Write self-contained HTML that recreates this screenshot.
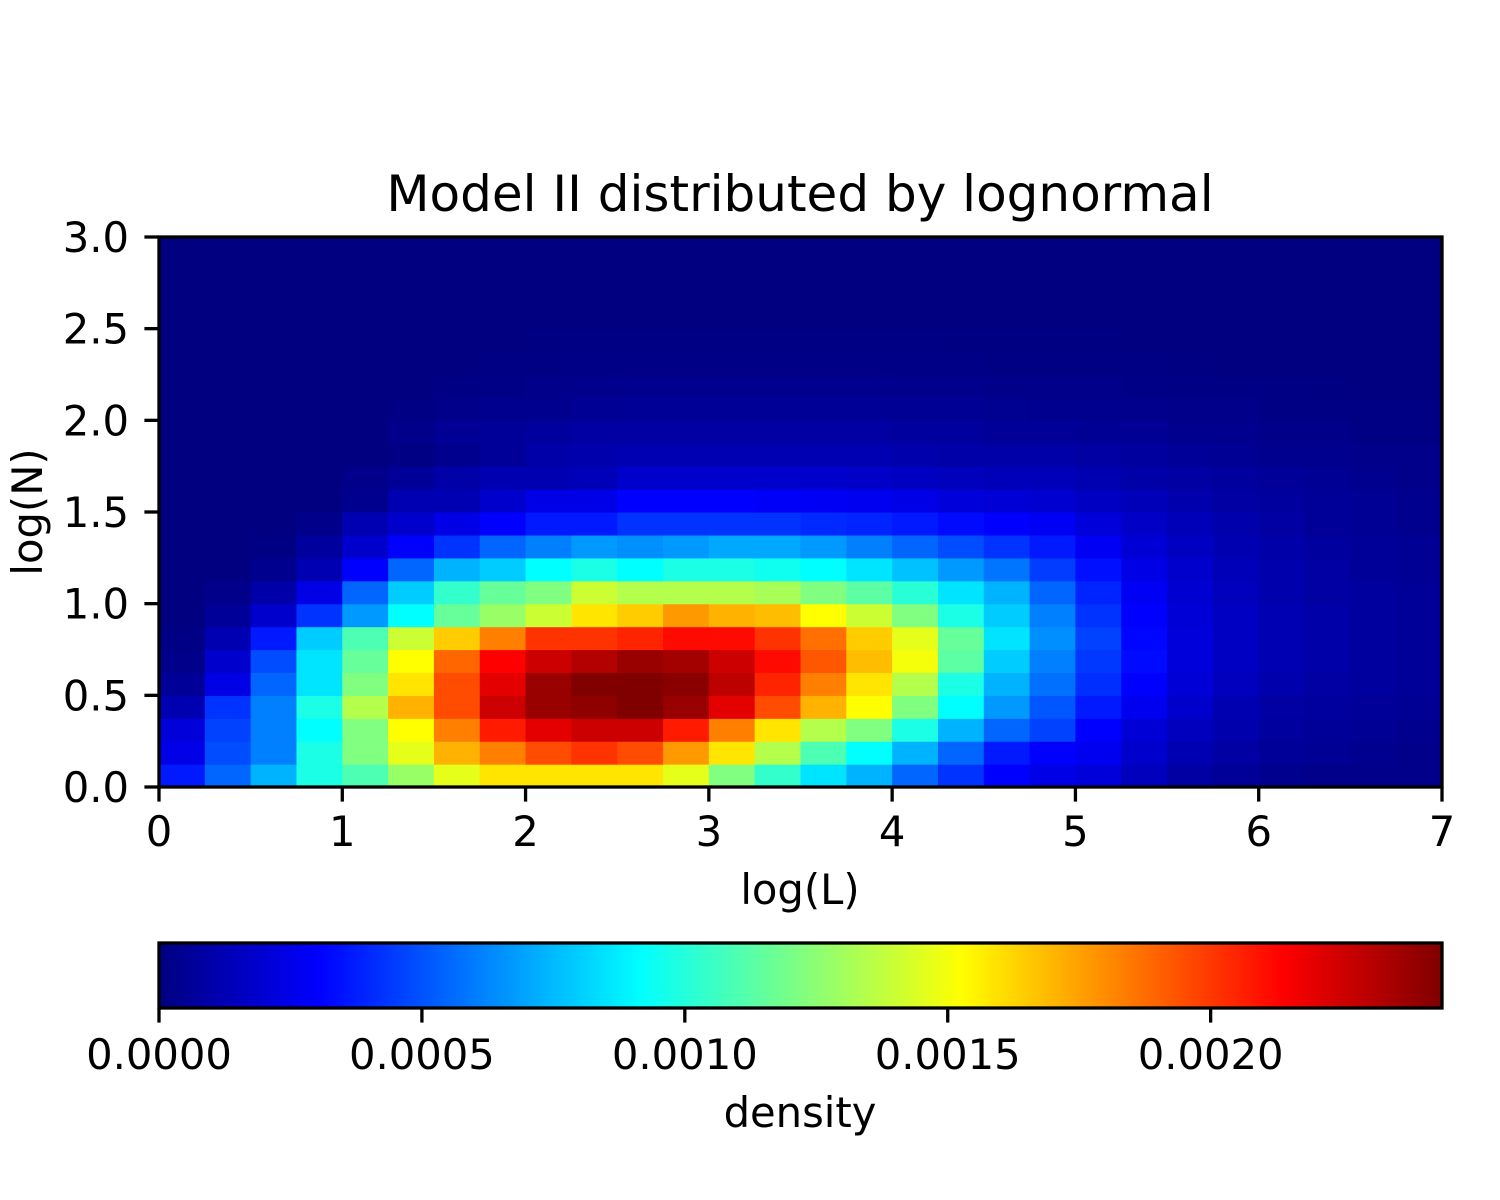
<!DOCTYPE html>
<html><head><meta charset="utf-8">
<style>
html,body{margin:0;padding:0;background:#fff;}
svg{display:block;font-family:"DejaVu Sans","Liberation Sans",sans-serif;}
</style></head>
<body>
<svg id="fig" width="1500" height="1200" viewBox="0 0 1500 1200" xmlns="http://www.w3.org/2000/svg">
<rect width="1500" height="1200" fill="#fff"/>
<text x="800" y="211" font-size="50" text-anchor="middle">Model II distributed by lognormal</text>
<g id="heat"></g>
<g id="axes"></g>
<text x="800" y="904" font-size="41.7" text-anchor="middle">log(L)</text>
<text x="0" y="0" font-size="41.7" text-anchor="middle" transform="translate(42,512) rotate(-90)">log(N)</text>
<defs><linearGradient id="jetgrad" x1="0" x2="1" y1="0" y2="0"></linearGradient></defs>
<rect x="159" y="943" width="1283" height="65" fill="url(#jetgrad)" stroke="#000" stroke-width="3.3"/>
<g id="cbaxis"></g>
<text x="800" y="1127" font-size="41.7" text-anchor="middle">density</text>
</svg>
<script>
// heatmap data: density as level on 0..20 scale of colorbar (density = level/20 * VMAX); row 0 = bottom (log N 0..0.125), columns step 0.25 in log L
const VMAX = 0.00244;
const xTicks = [0,1,2,3,4,5,6,7];
const yTicks = ["0.0","0.5","1.0","1.5","2.0","2.5","3.0"];
const cbTicks = ["0.0000","0.0005","0.0010","0.0015","0.0020"];
const row00 = [3,4.5,6,8,9,10.5,12,13,13,13, 13,12,10,8.5,7,6,4.5,3.5,2.5,2.0, 1.8,1.2,0.7,0.5,0.3,0.2,0.2,0.2];
const row01 = [2,4,5,8,10,12,14,15,16,16.5, 16,14.5,13,11,9,7.5,6,4.5,3,2.5, 2.2,1.5,1,0.7,0.5,0.4,0.3,0.2];
const row02 = [1.8,3.8,5,7.5,10,12.5,15,17,18,18.5, 18.5,17,15,13,11,10,8,6,4.5,3.8, 2.5,1.7,1.2,0.9,0.6,0.5,0.4,0.3];
const row03 = [1,3.5,5,8,11,14,16,18.5,19.5,19.7, 20,19.5,18,16,14,12.5,10,7.5,5.5,4.2, 3,2.2,1.5,1,0.7,0.6,0.5,0.4];
const row04 = [0.5,2,4.5,7,10,13,16,18,19.5,20, 20,19.8,18.8,16.8,15,13,11,8,6,4.7, 3.4,2.5,1.7,1.2,0.9,0.7,0.6,0.5];
const row05 = [0.2,1.5,4,7,9.5,12.5,15.5,17.5,18.5,19, 19.5,19.3,18.5,17.3,15.8,13.8,12.3,9.3,6.5,5, 3.6,2.7,1.8,1.3,1,0.8,0.6,0.5];
const row06 = [0.1,1,3,6.5,9,11.5,13.5,15,16.5,16.5, 16.8,17.3,17.3,16.5,15.3,13.5,12,9.5,7,5.3, 3.8,2.6,1.8,1.3,1,0.8,0.6,0.5];
const row07 = [0,0.5,1.5,3.5,5.5,7.5,9.5,10.5,11.5,13, 13.5,14.5,14,13.8,12.5,11.5,10,8,6.5,5, 3.5,2.5,1.7,1.3,1,0.8,0.6,0.5];
const row08 = [0,0.2,0.8,2,4.5,6.5,8.5,9.5,10,11.5, 11,11,11,10.8,10,9.3,8.3,7,6,4.5, 3.2,2.3,1.6,1.2,0.9,0.7,0.6,0.5];
const row09 = [0,0,0.3,1,2.5,4.5,6,6.5,7.5,8, 7.5,8,8,7.8,7.5,7,6.3,5.5,4.8,3.7, 2.8,2,1.5,1.1,0.9,0.7,0.5,0.4];
const row10 = [0,0,0.1,0.6,1.5,2.5,3.5,4.5,5,5.5, 5.3,5.5,5.8,5.8,5.5,5,4.5,4,3.5,3, 2.3,1.7,1.3,1,0.8,0.6,0.5,0.4];
const row11 = [0,0,0,0.2,1,1.5,2,2.5,3,3, 3.5,3.5,3.5,3.5,3.3,3.2,3,2.7,2.5,2.3, 1.8,1.4,1.1,0.9,0.7,0.5,0.4,0.3];
const row12 = [0,0,0,0,0.3,1,1,1.5,2,2, 2.5,2.5,2.5,2.4,2.3,2.2,2,1.8,1.7,1.6, 1.3,1.1,0.9,0.7,0.6,0.5,0.4,0.3];
const row13 = [0,0,0,0,0.2,0.5,0.8,1,1,1.1, 1.5,1.5,1.5,1.5,1.5,1.4,1.3,1.2,1.1,1.1, 1,0.8,0.7,0.6,0.5,0.4,0.3,0.2];
const row14 = [0,0,0,0,0,0.1,0.3,0.5,0.8,0.9, 1,1,1,1,1,1,0.9,0.8,0.8,0.8, 0.7,0.6,0.5,0.4,0.3,0.3,0.2,0.2];
const row15 = [0,0,0,0,0,0.2,0.4,0.5,0.6,0.7, 0.7,0.7,0.7,0.7,0.7,0.7,0.6,0.6,0.5,0.5, 0.4,0.4,0.3,0.3,0.2,0.2,0.1,0.1];
const row16 = [0,0,0,0,0,0.1,0.2,0.3,0.3,0.4, 0.45,0.45,0.45,0.45,0.45,0.45,0.4,0.4,0.35,0.3, 0.3,0.25,0.2,0.2,0.1,0.1,0.1,0.1];
const row17 = [0,0,0,0,0,0,0.1,0.15,0.2,0.25, 0.3,0.3,0.3,0.3,0.3,0.3,0.25,0.25,0.2,0.2, 0.2,0.15,0.1,0.1,0.1,0.05,0,0];
const row18 = [0,0,0,0,0,0,0,0.1,0.1,0.15, 0.15,0.15,0.15,0.15,0.15,0.15,0.15,0.15,0.1,0.1, 0.1,0.1,0.05,0,0,0,0,0];
const row19 = [0,0,0,0,0,0,0,0,0.05,0.08, 0.08,0.08,0.08,0.08,0.08,0.08,0.08,0.05,0.05,0.05, 0.05,0,0,0,0,0,0,0];
const row20 = [0,0,0,0,0,0,0,0,0,0, 0,0,0,0,0,0,0,0,0,0, 0,0,0,0,0,0,0,0];
const row21 = [0,0,0,0,0,0,0,0,0,0, 0,0,0,0,0,0,0,0,0,0, 0,0,0,0,0,0,0,0];
const row22 = [0,0,0,0,0,0,0,0,0,0, 0,0,0,0,0,0,0,0,0,0, 0,0,0,0,0,0,0,0];
const row23 = [0,0,0,0,0,0,0,0,0,0, 0,0,0,0,0,0,0,0,0,0, 0,0,0,0,0,0,0,0];
const rows = [row00,row01,row02,row03,row04,row05,row06,row07,row08,row09,row10,row11,row12,row13,row14,row15,row16,row17,row18,row19,row20,row21,row22,row23];

const NS = "http://www.w3.org/2000/svg";
const PX0 = 159, PX1 = 1442, PY0 = 787, PY1 = 237;
const XMAX = 7, YMAX = 3, CW = 0.25, RH = 0.125;
function xs(v){ return PX0 + (v / XMAX) * (PX1 - PX0); }
function ys(v){ return PY0 - (v / YMAX) * (PY0 - PY1); }
function cs(v){ return PX0 + (v / VMAX) * (PX1 - PX0); }
function clamp(a){ return Math.max(0, Math.min(1, a)); }
function jet(v){
  const r = clamp(Math.min(4*v - 1.5, -4*v + 4.5));
  const g = clamp(Math.min(4*v - 0.5, -4*v + 3.5));
  const b = clamp(Math.min(4*v + 0.5, -4*v + 2.5));
  return "rgb(" + Math.round(r*255) + "," + Math.round(g*255) + "," + Math.round(b*255) + ")";
}
function mk(tag, attrs, parent){
  const e = document.createElementNS(NS, tag);
  for (const k in attrs) e.setAttribute(k, attrs[k]);
  parent.appendChild(e);
  return e;
}
const heat = document.getElementById("heat");
rows.forEach(function(row, r){
  row.forEach(function(level, c){
    const density = level / 20 * VMAX;
    const x0 = xs(c*CW), x1 = xs((c+1)*CW), y0 = ys((r+1)*RH), y1 = ys(r*RH);
    const cell = mk("rect", {x: x0, y: y0, width: x1 - x0 + 0.6, height: y1 - y0 + 0.6, fill: jet(density / VMAX)}, heat);
    
    
  });
});
const axes = document.getElementById("axes");
const frame = mk("rect", {x: PX0, y: PY1, width: PX1-PX0, height: PY0-PY1, fill: "none", stroke: "#000", "stroke-width": 3.3}, axes);


xTicks.forEach(function(t){
  const x = xs(t);
  const tk = mk("line", {x1: x, x2: x, y1: PY0, y2: PY0 + 14.6, stroke: "#000", "stroke-width": 3.3}, axes);
  
  
  const lb = mk("text", {x: x, y: 846, "font-size": 41.7, "text-anchor": "middle"}, axes);
  lb.textContent = String(t);
  
  
});
yTicks.forEach(function(t){
  const y = ys(parseFloat(t));
  const tk = mk("line", {x1: PX0 - 14.6, x2: PX0, y1: y, y2: y, stroke: "#000", "stroke-width": 3.3}, axes);
  
  
  const lb = mk("text", {x: 129, y: y + 15, "font-size": 41.7, "text-anchor": "end"}, axes);
  lb.textContent = t;
  
  
});
const grad = document.getElementById("jetgrad");
for (let i = 0; i <= 40; i++){
  mk("stop", {offset: (i/40), "stop-color": jet(i/40)}, grad);
}
const cb = document.getElementById("cbaxis");
cbTicks.forEach(function(t){
  const x = cs(parseFloat(t));
  const tk = mk("line", {x1: x, x2: x, y1: 1008, y2: 1022.6, stroke: "#000", "stroke-width": 3.3}, cb);
  
  
  const lb = mk("text", {x: x, y: 1069, "font-size": 41.7, "text-anchor": "middle"}, cb);
  lb.textContent = t;
  
  
});
</script>
</body></html>
